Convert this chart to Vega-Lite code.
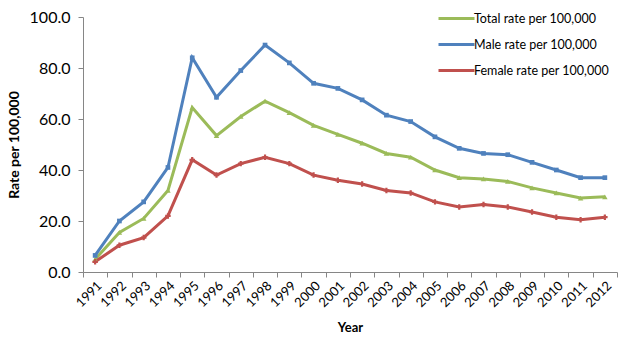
{
  "$schema": "https://vega.github.io/schema/vega-lite/v6.json",
  "width": 534,
  "height": 255,
  "autosize": {"type": "none"},
  "padding": {"left": 83, "top": 17, "right": 13, "bottom": 68},
  "background": "white",
  "config": {
    "font": "Lato",
    "view": {"stroke": null},
    "axis": {"grid": false, "domainColor": "#868686", "tickColor": "#868686", "labelColor": "#000000", "titleColor": "#000000", "labelFont": "Lato", "titleFont": "Lato"}
  },
  "datasets": {
    "rates": [
      {"year": "1991", "series": "Total rate per 100,000", "rate": 5},
      {"year": "1992", "series": "Total rate per 100,000", "rate": 15.5},
      {"year": "1993", "series": "Total rate per 100,000", "rate": 21},
      {"year": "1994", "series": "Total rate per 100,000", "rate": 32},
      {"year": "1995", "series": "Total rate per 100,000", "rate": 64.5},
      {"year": "1996", "series": "Total rate per 100,000", "rate": 53.5},
      {"year": "1997", "series": "Total rate per 100,000", "rate": 61},
      {"year": "1998", "series": "Total rate per 100,000", "rate": 67},
      {"year": "1999", "series": "Total rate per 100,000", "rate": 62.5},
      {"year": "2000", "series": "Total rate per 100,000", "rate": 57.5},
      {"year": "2001", "series": "Total rate per 100,000", "rate": 54},
      {"year": "2002", "series": "Total rate per 100,000", "rate": 50.5},
      {"year": "2003", "series": "Total rate per 100,000", "rate": 46.5},
      {"year": "2004", "series": "Total rate per 100,000", "rate": 45},
      {"year": "2005", "series": "Total rate per 100,000", "rate": 40},
      {"year": "2006", "series": "Total rate per 100,000", "rate": 37},
      {"year": "2007", "series": "Total rate per 100,000", "rate": 36.5},
      {"year": "2008", "series": "Total rate per 100,000", "rate": 35.5},
      {"year": "2009", "series": "Total rate per 100,000", "rate": 33},
      {"year": "2010", "series": "Total rate per 100,000", "rate": 31},
      {"year": "2011", "series": "Total rate per 100,000", "rate": 29},
      {"year": "2012", "series": "Total rate per 100,000", "rate": 29.5},
      {"year": "1991", "series": "Male rate per 100,000", "rate": 6.5},
      {"year": "1992", "series": "Male rate per 100,000", "rate": 20},
      {"year": "1993", "series": "Male rate per 100,000", "rate": 27.5},
      {"year": "1994", "series": "Male rate per 100,000", "rate": 41},
      {"year": "1995", "series": "Male rate per 100,000", "rate": 84},
      {"year": "1996", "series": "Male rate per 100,000", "rate": 68.5},
      {"year": "1997", "series": "Male rate per 100,000", "rate": 79},
      {"year": "1998", "series": "Male rate per 100,000", "rate": 89},
      {"year": "1999", "series": "Male rate per 100,000", "rate": 82},
      {"year": "2000", "series": "Male rate per 100,000", "rate": 74},
      {"year": "2001", "series": "Male rate per 100,000", "rate": 72},
      {"year": "2002", "series": "Male rate per 100,000", "rate": 67.5},
      {"year": "2003", "series": "Male rate per 100,000", "rate": 61.5},
      {"year": "2004", "series": "Male rate per 100,000", "rate": 59},
      {"year": "2005", "series": "Male rate per 100,000", "rate": 53},
      {"year": "2006", "series": "Male rate per 100,000", "rate": 48.5},
      {"year": "2007", "series": "Male rate per 100,000", "rate": 46.5},
      {"year": "2008", "series": "Male rate per 100,000", "rate": 46},
      {"year": "2009", "series": "Male rate per 100,000", "rate": 43},
      {"year": "2010", "series": "Male rate per 100,000", "rate": 40},
      {"year": "2011", "series": "Male rate per 100,000", "rate": 37},
      {"year": "2012", "series": "Male rate per 100,000", "rate": 37},
      {"year": "1991", "series": "Female rate per 100,000", "rate": 4},
      {"year": "1992", "series": "Female rate per 100,000", "rate": 10.5},
      {"year": "1993", "series": "Female rate per 100,000", "rate": 13.5},
      {"year": "1994", "series": "Female rate per 100,000", "rate": 22},
      {"year": "1995", "series": "Female rate per 100,000", "rate": 44},
      {"year": "1996", "series": "Female rate per 100,000", "rate": 38},
      {"year": "1997", "series": "Female rate per 100,000", "rate": 42.5},
      {"year": "1998", "series": "Female rate per 100,000", "rate": 45},
      {"year": "1999", "series": "Female rate per 100,000", "rate": 42.5},
      {"year": "2000", "series": "Female rate per 100,000", "rate": 38},
      {"year": "2001", "series": "Female rate per 100,000", "rate": 36},
      {"year": "2002", "series": "Female rate per 100,000", "rate": 34.5},
      {"year": "2003", "series": "Female rate per 100,000", "rate": 32},
      {"year": "2004", "series": "Female rate per 100,000", "rate": 31},
      {"year": "2005", "series": "Female rate per 100,000", "rate": 27.5},
      {"year": "2006", "series": "Female rate per 100,000", "rate": 25.5},
      {"year": "2007", "series": "Female rate per 100,000", "rate": 26.5},
      {"year": "2008", "series": "Female rate per 100,000", "rate": 25.5},
      {"year": "2009", "series": "Female rate per 100,000", "rate": 23.5},
      {"year": "2010", "series": "Female rate per 100,000", "rate": 21.5},
      {"year": "2011", "series": "Female rate per 100,000", "rate": 20.5},
      {"year": "2012", "series": "Female rate per 100,000", "rate": 21.5}
    ]
  },
  "data": {"name": "rates"},
  "encoding": {
    "x": {
      "field": "year", "type": "ordinal",
      "scale": {"type": "band", "paddingInner": 0, "paddingOuter": 0},
      "axis": {"title": "Year", "titleFontSize": 13, "titleFontWeight": "bold", "titlePadding": 12, "labelAngle": -45, "labelFontSize": 13, "tickBand": "extent", "tickSize": 5, "labelPadding": 2}
    },
    "y": {
      "field": "rate", "type": "quantitative",
      "scale": {"domain": [0, 100], "nice": false},
      "axis": {"title": "Rate per 100,000", "titleFontSize": 14, "titleFontWeight": "bold", "titlePadding": 8, "values": [0, 20, 40, 60, 80, 100], "format": ".1f", "labelFontSize": 16, "tickSize": 5, "labelPadding": 8}
    },
    "color": {
      "field": "series", "type": "nominal",
      "scale": {"domain": ["Total rate per 100,000", "Male rate per 100,000", "Female rate per 100,000"], "range": ["#9BBB59", "#4F81BD", "#C0504D"]},
      "legend": {
        "title": null, "orient": "none", "legendX": 354, "legendY": -18,
        "symbolType": "stroke", "symbolStrokeWidth": 3, "symbolSize": 1296,
        "labelFontSize": 12.5, "labelOffset": -2, "rowPadding": -5, "labelColor": "#000000"
      }
    }
  },
  "layer": [
    {"mark": {"type": "line", "strokeWidth": 3}},
    {
      "transform": [{"filter": "datum.series === 'Total rate per 100,000'"}],
      "mark": {"type": "point", "filled": true, "opacity": 1, "size": 30, "shape": "triangle-up"}
    },
    {
      "transform": [{"filter": "datum.series === 'Male rate per 100,000'"}],
      "mark": {"type": "point", "filled": true, "opacity": 1, "size": 22, "shape": "square"}
    },
    {
      "transform": [{"filter": "datum.series === 'Female rate per 100,000'"}],
      "mark": {"type": "point", "filled": true, "opacity": 1, "size": 30, "shape": "cross"}
    }
  ]
}
